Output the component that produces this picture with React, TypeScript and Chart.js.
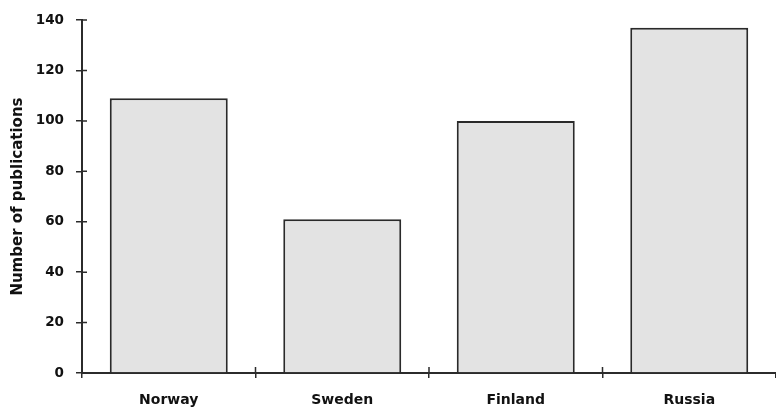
import React, { useEffect, useRef } from "react";
import { Chart, registerables } from "chart.js";

Chart.register(...registerables);

const countries = ["Norway", "Sweden", "Finland", "Russia"];
const publications = [109, 61, 100, 137];
const yTicks = [0, 20, 40, 60, 80, 100, 120, 140];
const yTitle = "Number of publications";

const crossTicks = {
  id: "crossTicks",
  afterDraw(chart: any) {
    const ctx = chart.ctx;
    const { left, bottom } = chart.chartArea;
    const ys = chart.scales.y;
    const xs = chart.scales.x;
    ctx.save();
    ctx.strokeStyle = "#2b2b2b";
    ctx.lineWidth = 1.5;
    ctx.beginPath();
    ys.ticks.forEach((_t: any, i: number) => {
      const y = ys.getPixelForTick(i);
      ctx.moveTo(left, y);
      ctx.lineTo(left + 5, y);
    });
    for (let i = 1; i < countries.length; i++) {
      const x = (xs.getPixelForValue(i - 1) + xs.getPixelForValue(i)) / 2;
      ctx.moveTo(x, bottom);
      ctx.lineTo(x, bottom - 6);
    }
    ctx.stroke();
    ctx.restore();
  },
};

export default function App() {
  const ref = useRef<HTMLCanvasElement>(null);
  useEffect(() => {
    if (!ref.current) return;
    const family = "'DejaVu Sans', sans-serif";
    const chart = new Chart(ref.current, {
      type: "bar",
      data: {
        labels: countries,
        datasets: [
          {
            data: publications,
            backgroundColor: "#e3e3e3",
            borderColor: "#2a2a2a",
            borderWidth: 2,
            barPercentage: 0.68,
            categoryPercentage: 1,
          },
        ],
      },
      options: {
        responsive: false,
        animation: false,
        layout: { padding: { top: 18, right: 0, left: 0, bottom: 0 } },
        plugins: { legend: { display: false }, tooltip: { enabled: false } },
        scales: {
          x: {
            grid: {
              offset: true,
              drawOnChartArea: false,
              drawTicks: true,
              tickLength: 5,
              color: "#2b2b2b",
              lineWidth: 1.5,
            },
            border: { display: true, color: "#2b2b2b", width: 2 },
            ticks: { color: "#111", font: { family, weight: "bold", size: 14 }, padding: 14 },
            afterFit: (s: any) => {
              s.height = 36;
            },
          },
          y: {
            min: 0,
            max: 140,
            afterBuildTicks: (s: any) => {
              s.ticks = yTicks.map((v) => ({ value: v }));
            },
            grid: {
              drawOnChartArea: false,
              drawTicks: true,
              tickLength: 6,
              color: "#2b2b2b",
              lineWidth: 1.5,
            },
            border: { display: true, color: "#2b2b2b", width: 2 },
            ticks: { color: "#111", font: { family, weight: "bold", size: 13.5 }, padding: 12 },
            title: {
              display: true,
              text: yTitle,
              color: "#111",
              font: { family, weight: "bold", size: 15 },
              padding: { top: 9, bottom: 0 },
            },
            afterFit: (s: any) => {
              s.width = 82;
            },
          },
        },
      },
      plugins: [crossTicks],
    });
    return () => chart.destroy();
  }, []);
  return (
    <div style={{ position: "absolute", left: 0, top: 0, width: 776, height: 409, background: "#fff" }}>
      <canvas ref={ref} width={776} height={409} />
    </div>
  );
}
